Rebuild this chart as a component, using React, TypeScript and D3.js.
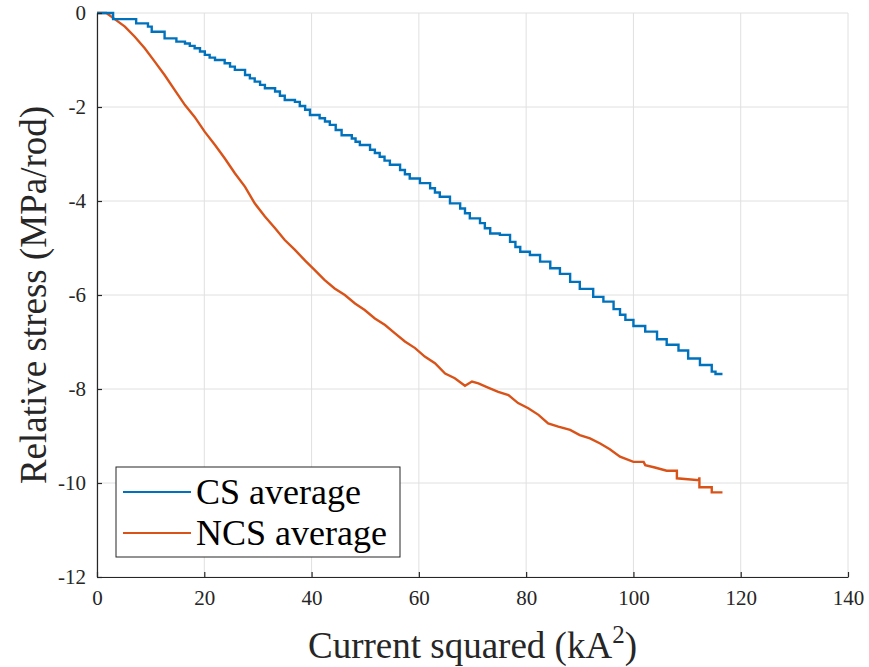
import { useEffect, useRef } from 'react';
import * as d3 from 'd3';

// CS average (blue) – step points [current², stress]
const csX = [0, 2.4, 3.0, 7.3, 9.5, 10.2, 12.6, 14.8, 16.4, 17.3, 18.2, 19.2, 20.1, 21.0, 22.0, 23.8, 24.8, 25.7, 27.6, 28.5, 29.4, 30.4, 31.3, 33.2, 34.1, 35.0, 36.9, 37.8, 38.8, 39.7, 41.5, 42.5, 43.4, 44.5, 45.6, 47.5, 48.2, 49.0, 50.9, 51.8, 52.7, 53.6, 54.6, 56.5, 57.4, 58.3, 60.2, 62.1, 63.0, 63.9, 65.8, 67.7, 68.6, 69.5, 71.4, 72.3, 73.3, 75.1, 77.0, 78.0, 78.9, 80.7, 82.6, 84.5, 86.3, 88.2, 90.0, 92.5, 94.4, 96.3, 97.5, 98.5, 100.0, 102.2, 104.4, 106.2, 108.4, 110.2, 112.4, 114.6, 115.3, 116.6];
const csY = [0, 0, -0.13, -0.22, -0.29, -0.40, -0.54, -0.61, -0.65, -0.70, -0.75, -0.82, -0.89, -0.95, -1.0, -1.07, -1.14, -1.21, -1.32, -1.39, -1.46, -1.53, -1.60, -1.67, -1.76, -1.85, -1.89, -1.98, -2.06, -2.17, -2.24, -2.31, -2.38, -2.49, -2.60, -2.67, -2.74, -2.81, -2.91, -2.98, -3.06, -3.14, -3.23, -3.34, -3.43, -3.52, -3.62, -3.73, -3.82, -3.91, -4.05, -4.16, -4.26, -4.37, -4.47, -4.58, -4.69, -4.72, -4.87, -4.98, -5.08, -5.15, -5.29, -5.43, -5.55, -5.72, -5.87, -6.04, -6.14, -6.30, -6.42, -6.53, -6.66, -6.78, -6.94, -7.06, -7.18, -7.35, -7.49, -7.63, -7.68, -7.68];

// NCS average (orange)
const ncsX = [0, 1.75, 3.3, 5.2, 7.0, 8.9, 10.8, 12.6, 14.5, 16.4, 18.2, 20.1, 22.0, 23.8, 25.7, 27.6, 29.4, 31.3, 33.2, 35.0, 36.9, 38.8, 40.6, 42.4, 44.3, 46.2, 48.1, 49.9, 51.8, 53.7, 55.5, 57.4, 59.3, 61.1, 63.0, 64.9, 66.7, 68.6, 69.9, 71.1, 72.9, 74.8, 76.7, 78.5, 80.4, 82.3, 84.1, 86.0, 88.2, 90.0, 91.9, 93.8, 95.6, 97.5, 100.0, 101.9, 102.2, 104.0, 106.2, 108.1, 108.1, 112.2, 112.3, 112.3, 114.6, 114.6, 116.6];
const ncsY = [0, 0, -0.13, -0.29, -0.50, -0.75, -1.04, -1.32, -1.64, -1.96, -2.21, -2.53, -2.81, -3.09, -3.41, -3.70, -4.05, -4.33, -4.58, -4.83, -5.04, -5.27, -5.47, -5.68, -5.86, -6.0, -6.18, -6.32, -6.50, -6.64, -6.81, -6.99, -7.13, -7.31, -7.45, -7.67, -7.77, -7.93, -7.84, -7.88, -7.97, -8.06, -8.13, -8.30, -8.41, -8.55, -8.73, -8.80, -8.87, -8.98, -9.05, -9.16, -9.28, -9.44, -9.55, -9.55, -9.62, -9.67, -9.74, -9.74, -9.90, -9.94, -9.88, -10.09, -10.09, -10.2, -10.2];

const xTicks = [0, 20, 40, 60, 80, 100, 120, 140];
const yTicks = [0, -2, -4, -6, -8, -10, -12];
const seriesNames = ['CS average', 'NCS average'];
const seriesColors = ['#0072BD', '#D95319'];

export default function App() {
  const ref = useRef<SVGSVGElement>(null);

  useEffect(() => {
    if (!ref.current) return;
    const svg = d3.select(ref.current);
    svg.selectAll('*').remove();

    const W = 869, H = 667;
    const margin = { top: 13, right: 21, bottom: 90, left: 97 };
    const font = 'Liberation Serif';
    const axisColor = '#262626';

    const x = d3.scaleLinear().domain([0, 140]).range([margin.left, W - margin.right]);
    const y = d3.scaleLinear().domain([-12, 0]).range([H - margin.bottom, margin.top]);

    svg.append('rect').attr('width', W).attr('height', H).attr('fill', '#fff');

    // grid
    const grid = svg.append('g').attr('stroke', '#e0e0e0').attr('stroke-width', 1);
    xTicks.forEach(t => {
      grid.append('line')
        .attr('x1', x(t)).attr('x2', x(t))
        .attr('y1', y(-12)).attr('y2', y(0));
    });
    yTicks.forEach(t => {
      grid.append('line')
        .attr('x1', x(0)).attr('x2', x(140))
        .attr('y1', y(t)).attr('y2', y(t));
    });

    // series
    const line = d3.line<[number, number]>()
      .x(d => x(d[0]))
      .y(d => y(d[1]));

    const cs = csX.map((v, i) => [v, csY[i]] as [number, number]);
    const ncs = ncsX.map((v, i) => [v, ncsY[i]] as [number, number]);

    svg.append('path')
      .attr('d', line.curve(d3.curveLinear)(ncs) as string)
      .attr('fill', 'none')
      .attr('stroke', seriesColors[1])
      .attr('stroke-width', 2.4);

    svg.append('path')
      .attr('d', line.curve(d3.curveStepAfter)(cs) as string)
      .attr('fill', 'none')
      .attr('stroke', seriesColors[0])
      .attr('stroke-width', 2.4);

    // axes (left + bottom, ticks inward)
    const fmt = (d: d3.NumberValue) => String(d);
    const xAxis = d3.axisBottom(x).tickValues(xTicks).tickFormat(fmt).tickSizeInner(-5).tickSizeOuter(0).tickPadding(10);
    const gx = svg.append('g').attr('transform', `translate(0,${y(-12)})`).call(xAxis);
    const yAxis = d3.axisLeft(y).tickValues(yTicks).tickFormat(fmt).tickSizeInner(-5).tickSizeOuter(0).tickPadding(11);
    const gy = svg.append('g').attr('transform', `translate(${x(0)},0)`).call(yAxis);

    [gx, gy].forEach(g => {
      g.attr('font-family', font).attr('font-size', 21);
      g.select('.domain').attr('stroke', axisColor).attr('stroke-width', 1.2);
      g.selectAll('.tick line').attr('stroke', axisColor).attr('stroke-width', 1.2);
      g.selectAll('.tick text').attr('fill', axisColor);
    });
    gx.selectAll('.tick text').attr('dy', '0.85em');

    // axis labels
    const xl = svg.append('text')
      .attr('x', (x(0) + x(140)) / 2)
      .attr('y', 658)
      .attr('text-anchor', 'middle')
      .attr('fill', axisColor)
      .attr('font-family', font)
      .attr('font-size', 37);
    xl.append('tspan').text('Current squared (kA');
    xl.append('tspan').attr('dy', -15).attr('font-size', 25).text('2');
    xl.append('tspan').attr('dy', 15).text(')');

    svg.append('text')
      .attr('transform', `translate(46,${(y(0) + y(-12)) / 2}) rotate(-90)`)
      .attr('text-anchor', 'middle')
      .attr('fill', axisColor)
      .attr('font-family', font)
      .attr('font-size', 37)
      .text('Relative stress (MPa/rod)');

    // legend
    const lg = svg.append('g');
    lg.append('rect')
      .attr('x', 116).attr('y', 467)
      .attr('width', 284).attr('height', 90)
      .attr('fill', '#fff')
      .attr('stroke', axisColor)
      .attr('stroke-width', 1);
    seriesNames.forEach((name, i) => {
      const cy = 492 + i * 41;
      lg.append('line')
        .attr('x1', 123).attr('x2', 191)
        .attr('y1', cy).attr('y2', cy)
        .attr('stroke', seriesColors[i])
        .attr('stroke-width', 2);
      lg.append('text')
        .attr('x', 196).attr('y', cy + 12)
        .attr('fill', '#000')
        .attr('font-family', font)
        .attr('font-size', 36)
        .text(name);
    });
  }, []);

  return (
    <div style={{ position: 'absolute', left: 0, top: 0 }}>
      <svg ref={ref} width={869} height={667} style={{ display: 'block' }} />
    </div>
  );
}
